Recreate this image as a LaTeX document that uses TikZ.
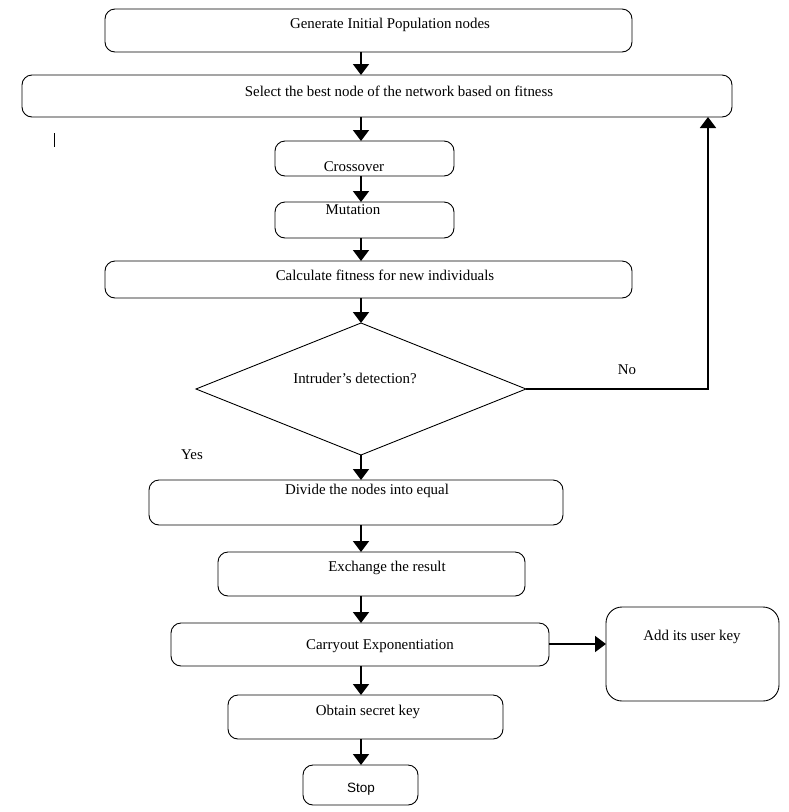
\documentclass[tikz,border=0pt]{standalone}
\usepackage{fontspec}
\setmainfont{Liberation Serif}
\newfontfamily\arialfont{Liberation Sans}
\usetikzlibrary{shapes.geometric,arrows.meta}
\begin{document}
\begin{tikzpicture}[x=1pt,y=-1pt,
  box/.style={draw,rounded corners=10pt,line width=0.9pt,inner sep=0pt,outer sep=0pt},
  txt/.style={inner sep=0pt,font=\fontsize{14.9}{17}\selectfont},
  arr/.style={line width=1.8pt,-{Triangle[width=16pt,length=11pt]}}]
\useasboundingbox (0,0) rectangle (788,812);
\coordinate (col) at (361,0);
\coordinate (nocol) at (708,0);
% boxes
\node[box,minimum width=527,minimum height=43] (b1) at (368.5,30.5) {};
\node[txt] (t1) at (390,25) {Generate Initial Population nodes};
\node[box,minimum width=710,minimum height=42] (b2) at (377,96) {};
\node[txt] (t2) at (399,91) {Select the best node of the network based on fitness};
\node[box,minimum width=179,minimum height=35] (b3) at (364.5,158.5) {};
\node[txt] (t3) at (354,167) {Crossover};
\node[box,minimum width=179,minimum height=36] (b4) at (364.5,220) {};
\node[txt] (t4) at (353,210) {Mutation};
\node[box,minimum width=527,minimum height=37] (b5) at (368.5,279.5) {};
\node[txt] (t5) at (385,275) {Calculate fitness for new individuals};
\node[draw,diamond,line width=0.9pt,inner sep=0pt,outer sep=0pt,minimum width=330,minimum height=132] (dia) at (361,389) {};
\node[txt] (t6) at (355,378) {Intruder’s detection?};
\node[box,minimum width=414,minimum height=45] (b7) at (356,502.5) {};
\node[txt] (t7) at (367,491) {Divide the nodes into equal};
\node[box,minimum width=307,minimum height=44] (b8) at (371.5,574) {};
\node[txt] (t8) at (387,568) {Exchange the result};
\node[box,minimum width=378,minimum height=43] (b9) at (360,644.5) {};
\node[txt] (t9) at (380,646) {Carryout Exponentiation};
\node[box,rounded corners=16pt,minimum width=173,minimum height=94] (b10) at (692.5,654) {};
\node[txt] (t10) at (692,637) {Add its user key};
\node[box,minimum width=275,minimum height=44] (b11) at (365.5,717) {};
\node[txt] (t11) at (368,712) {Obtain secret key};
\node[box,minimum width=115,minimum height=40] (b12) at (360.5,785) {};
\node[txt,font=\arialfont\fontsize{13.5}{15}\selectfont] (t12) at (361,789) {Stop};
% labels
\node[txt] (no) at (627,370) {No};
\node[txt] (yes) at (192,455) {Yes};
% small mark
\coordinate (m1) at (54,133);
\coordinate (m2) at (54,147);
\draw[line width=0.8pt] (m1) -- (m2);
% arrows
\draw[arr] (b1.south -| col) -- (b2.north -| col);
\draw[arr] (b2.south -| col) -- (b3.north -| col);
\draw[arr] (b3.south -| col) -- (b4.north -| col);
\draw[arr] (b4.south -| col) -- (b5.north -| col);
\draw[arr] (b5.south -| col) -- (dia.north);
\draw[arr] (dia.south) -- (b7.north -| col);
\draw[arr] (b7.south -| col) -- (b8.north -| col);
\draw[arr] (b8.south -| col) -- (b9.north -| col);
\draw[arr] (b9.south -| col) -- (b11.north -| col);
\draw[arr] (b11.south -| col) -- (b12.north -| col);
\draw[arr] (dia.east) -| (b2.south -| nocol);
\draw[arr] (b9.east |- 0,644) -- (b10.west |- 0,644);
\end{tikzpicture}
\end{document}
